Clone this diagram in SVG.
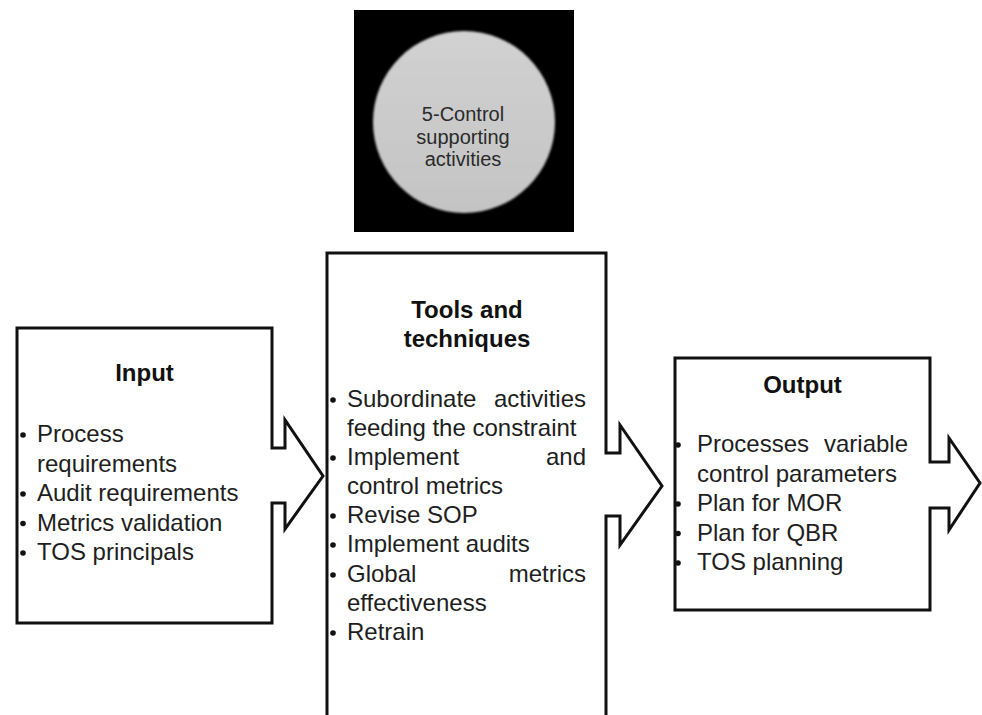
<svg xmlns="http://www.w3.org/2000/svg" width="982" height="715" viewBox="0 0 982 715">
<style>
.box{fill:#fff;stroke:#111;stroke-width:3;stroke-linejoin:miter}
.t{font-family:"Liberation Sans",Arial,sans-serif;font-size:24px;fill:#1e1e1e}
.h{font-family:"Liberation Sans",Arial,sans-serif;font-size:24px;font-weight:bold;fill:#111;text-anchor:middle}
.c{font-family:"Liberation Sans",Arial,sans-serif;font-size:20px;fill:#2a2a2a;text-anchor:middle}
.e{text-anchor:end}
.b{fill:#111}
</style>
<defs>
<linearGradient id="g" x1="0" y1="0" x2="0" y2="1">
<stop offset="0" stop-color="#d1d1d1"/>
<stop offset="1" stop-color="#c4c4c4"/>
</linearGradient>
<filter id="soft" x="-10%" y="-10%" width="120%" height="120%">
<feGaussianBlur stdDeviation="0.9"/>
</filter>
</defs>
<rect width="982" height="715" fill="#fff"/>

<g id="control">
<rect x="354" y="10" width="220" height="222" fill="#000"/>
<circle cx="464" cy="122" r="91" fill="url(#g)" filter="url(#soft)"/>
<text class="c" x="463" y="121">5-Control</text>
<text class="c" x="463" y="143.5">supporting</text>
<text class="c" x="463" y="166">activities</text>
</g>

<g id="input">
<path class="box" d="M17,328 H272 V448 H285 V420 L323,476 L285,529 V503 H272 V623 H17 Z"/>
<text class="h" x="144.5" y="381">Input</text>
<circle class="b" cx="23" cy="435" r="2.8"/>
<text class="t" x="37" y="442">Process</text>
<text class="t" x="37" y="471.5">requirements</text>
<circle class="b" cx="23" cy="494" r="2.8"/>
<text class="t" x="37" y="501">Audit requirements</text>
<circle class="b" cx="23" cy="523.5" r="2.8"/>
<text class="t" x="37" y="530.5">Metrics validation</text>
<circle class="b" cx="23" cy="553" r="2.8"/>
<text class="t" x="37" y="560">TOS principals</text>
</g>

<g id="tools">
<path class="box" d="M327,720 V253 H606 V453 H620 V425 L662,486 L620,545 V516 H606 V720"/>
<text class="h" x="467" y="318">Tools and</text>
<text class="h" x="467" y="347">techniques</text>
<circle class="b" cx="333" cy="400" r="2.8"/>
<text class="t" x="347" y="407">Subordinate</text>
<text class="t e" x="586" y="407">activities</text>
<text class="t" x="347" y="436">feeding the constraint</text>
<circle class="b" cx="333" cy="458" r="2.8"/>
<text class="t" x="347" y="465">Implement</text>
<text class="t e" x="586" y="465">and</text>
<text class="t" x="347" y="494">control metrics</text>
<circle class="b" cx="333" cy="516" r="2.8"/>
<text class="t" x="347" y="523">Revise SOP</text>
<circle class="b" cx="333" cy="545" r="2.8"/>
<text class="t" x="347" y="552">Implement audits</text>
<circle class="b" cx="333" cy="575" r="2.8"/>
<text class="t" x="347" y="582">Global</text>
<text class="t e" x="586" y="582">metrics</text>
<text class="t" x="347" y="611">effectiveness</text>
<circle class="b" cx="333" cy="633" r="2.8"/>
<text class="t" x="347" y="640">Retrain</text>
</g>

<g id="output">
<path class="box" d="M675,358 H930 V462 H949 V438 L980,483 L949,530 V508 H930 V610 H675 Z"/>
<text class="h" x="802.5" y="393">Output</text>
<circle class="b" cx="678" cy="445" r="2.8"/>
<text class="t" x="697" y="452">Processes</text>
<text class="t e" x="908" y="452">variable</text>
<text class="t" x="697" y="481.5">control parameters</text>
<circle class="b" cx="678" cy="504" r="2.8"/>
<text class="t" x="697" y="511">Plan for MOR</text>
<circle class="b" cx="678" cy="533.5" r="2.8"/>
<text class="t" x="697" y="540.5">Plan for QBR</text>
<circle class="b" cx="678" cy="563" r="2.8"/>
<text class="t" x="697" y="570">TOS planning</text>
</g>

<g id="connectors"></g>
</svg>
